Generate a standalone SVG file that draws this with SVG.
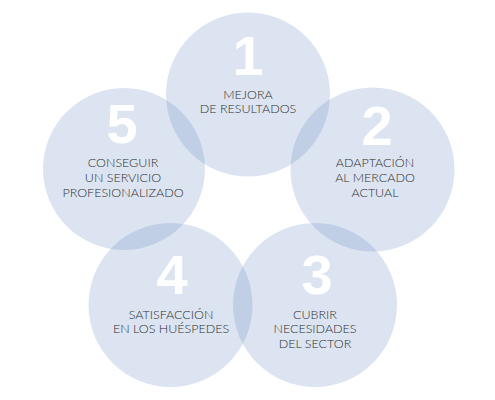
<svg xmlns="http://www.w3.org/2000/svg" width="495" height="400" viewBox="0 0 495 400">
<style>
.c{fill:#6e90c3;fill-opacity:0.24}
.n{font-family:"Liberation Sans",Arial,sans-serif;font-weight:bold;font-size:56px;fill:#ffffff;text-anchor:middle}
.t{font-family:"Lato","Liberation Sans",sans-serif;font-weight:300;font-size:12.5px;fill:#2e2e2e;text-anchor:middle}
</style>
<rect width="495" height="400" fill="#ffffff"/>
<g id="node1"><circle class="c" cx="248" cy="94.5" r="82"/><text class="n" x="248" y="75">1</text><text class="t" x="248" y="99">MEJORA</text><text class="t" x="248" y="113">DE RESULTADOS</text></g>
<g id="node2"><circle class="c" cx="372.5" cy="169.5" r="82"/><text class="n" x="377" y="145">2</text><text class="t" x="375" y="167">ADAPTACIÓN</text><text class="t" x="375" y="182">AL MERCADO</text><text class="t" x="375" y="197">ACTUAL</text></g>
<g id="node3"><circle class="c" cx="315" cy="305" r="82"/><text class="n" x="317" y="294">3</text><text class="t" x="315" y="319">CUBRIR</text><text class="t" x="315" y="333">NECESIDADES</text><text class="t" x="315" y="348">DEL SECTOR</text></g>
<g id="node4"><circle class="c" cx="170.5" cy="305" r="82"/><text class="n" x="172" y="294">4</text><text class="t" x="171" y="319">SATISFACCIÓN</text><text class="t" x="171" y="333">EN LOS HUÉSPEDES</text></g>
<g id="node5"><circle class="c" cx="124" cy="169" r="81"/><text class="n" x="122" y="143">5</text><text class="t" x="123" y="167">CONSEGUIR</text><text class="t" x="123" y="182">UN SERVICIO</text><text class="t" x="123" y="197">PROFESIONALIZADO</text></g>
<g id="connectors"/>
</svg>
